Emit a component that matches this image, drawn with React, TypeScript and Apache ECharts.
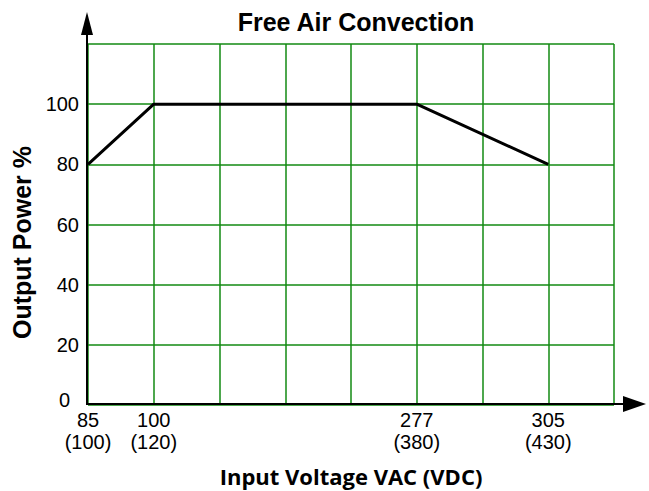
import React, { useEffect, useRef } from "react";
import * as echarts from "echarts";

const xTickPositions = [0, 1, 2, 3, 4, 5, 6, 7, 8];
const xTickLabels = ["85\n(100)", "100\n(120)", "", "", "", "277\n(380)", "", "305\n(430)", ""];
const seriesX = [0, 1, 5, 7];
const seriesY = [80, 100, 100, 80];
const yTicks = [0, 20, 40, 60, 80, 100, 120];

const GREEN = "#128a12";

export default function App() {
  const ref = useRef<HTMLDivElement>(null);
  useEffect(() => {
    if (!ref.current) return;
    const chart = echarts.init(ref.current, undefined, { renderer: "svg" });
    const L = 88, T = 44, R = 614, B = 405;
    chart.setOption({
      animation: false,
      title: {
        text: "Free Air Convection",
        left: 351,
        top: 4,
        textAlign: "center",
        textStyle: { fontFamily: "Liberation Sans", fontWeight: "bold", fontSize: 25, color: "#000" },
      },
      grid: {
        left: L,
        top: T,
        right: 649 - R,
        bottom: 491 - B,
        show: false,
        containLabel: false,
        outerBoundsMode: "none",
      },
      xAxis: {
        type: "value",
        min: 0,
        max: 8,
        interval: 1,
        name: "Input Voltage VAC (VDC)",
        nameLocation: "middle",
        nameGap: 58,
        nameTextStyle: {
          fontFamily: "Open Sans",
          fontWeight: "bold",
          fontSize: 22,
          lineHeight: 26,
          color: "#000",
        },
        axisLine: { show: false },
        axisTick: { show: false },
        splitLine: { show: true, lineStyle: { color: GREEN, width: 1.5 } },
        axisLabel: {
          fontFamily: "Liberation Sans",
          fontSize: 20,
          color: "#000",
          lineHeight: 22,
          margin: 4,
          showMaxLabel: true,
          formatter: (v: number) => {
            const i = xTickPositions.indexOf(v);
            return i >= 0 ? xTickLabels[i] : "";
          },
        },
      },
      yAxis: {
        type: "value",
        min: 0,
        max: 120,
        interval: 20,
        name: "Output Power %",
        nameLocation: "middle",
        nameGap: 52,
        nameTextStyle: {
          fontFamily: "Liberation Sans",
          fontWeight: "bold",
          fontSize: 25,
          color: "#000",
          padding: [0, 36, 0, 0],
        },
        axisLine: { show: false },
        axisTick: { show: false },
        splitLine: { show: true, lineStyle: { color: GREEN, width: 1.5 } },
        axisLabel: {
          fontFamily: "Liberation Sans",
          fontSize: 20,
          color: "#000",
          margin: 9,
          formatter: (v: number) =>
            v === yTicks[yTicks.length - 1] ? "" : v === 0 ? "{z|0}" : String(v),
          rich: {
            z: { fontFamily: "Liberation Sans", fontSize: 20, color: "#000", padding: [0, 9, 10, 0] },
          },
        },
      },
      series: [
        {
          type: "line",
          data: seriesX.map((x, i) => [x, seriesY[i]]),
          symbol: "none",
          lineStyle: { color: "#000", width: 3 },
          z: 5,
        },
      ],
      graphic: [
        { type: "line", shape: { x1: L - 1, y1: B, x2: L - 1, y2: 30 }, style: { stroke: "#000", lineWidth: 2 }, z: 10 },
        { type: "polygon", shape: { points: [[L - 1, 12], [L - 7, 35], [L + 5, 35]] }, style: { fill: "#000" }, z: 10 },
        { type: "line", shape: { x1: L - 1, y1: B - 1, x2: 626, y2: B - 1 }, style: { stroke: "#000", lineWidth: 2 }, z: 10 },
        { type: "polygon", shape: { points: [[646, B - 1], [623, B - 9], [623, B + 7]] }, style: { fill: "#000" }, z: 10 },
      ],
    });
    return () => chart.dispose();
  }, []);
  return <div ref={ref} style={{ width: 649, height: 491, position: "absolute", left: 0, top: 0 }} />;
}
